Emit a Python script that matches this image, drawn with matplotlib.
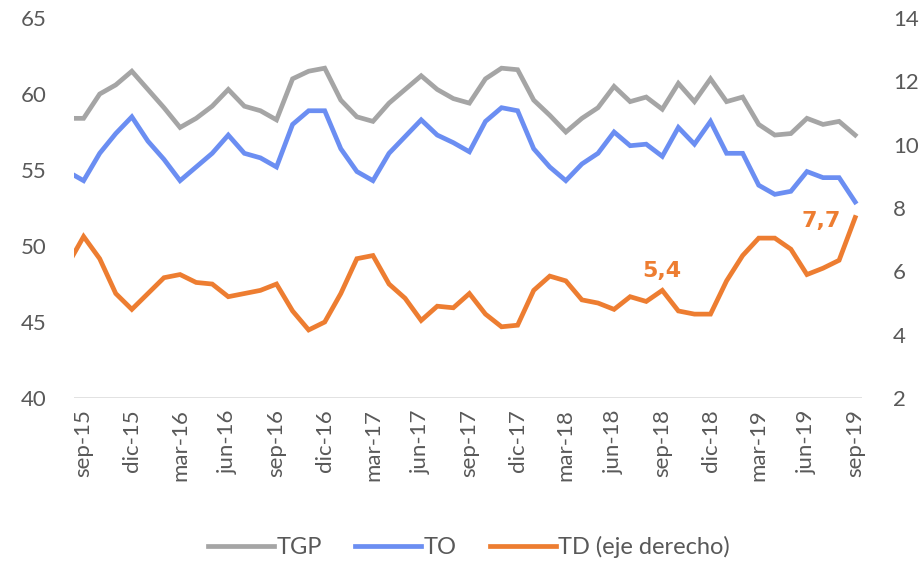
import matplotlib.pyplot as plt

# monthly series, aug-15 .. sep-19 (aug-15 is only partly visible at the left edge)
tgp = [58.4, 58.4, 60.0, 60.6, 61.5, 60.3, 59.1, 57.8, 58.4, 59.2, 60.3, 59.2, 58.9, 58.3,
       61.0, 61.5, 61.7, 59.6, 58.5, 58.2, 59.4, 60.3, 61.2, 60.3, 59.7, 59.4, 61.0, 61.7,
       61.6, 59.6, 58.6, 57.5, 58.4, 59.1, 60.5, 59.5, 59.8, 59.0, 60.7, 59.5, 61.0, 59.5,
       59.8, 58.0, 57.3, 57.4, 58.4, 58.0, 58.2, 57.3]
to = [54.9, 54.3, 56.1, 57.4, 58.5, 56.9, 55.7, 54.3, 55.2, 56.1, 57.3, 56.1, 55.8, 55.2,
      58.0, 58.9, 58.9, 56.4, 54.9, 54.3, 56.1, 57.2, 58.3, 57.3, 56.8, 56.2, 58.2, 59.1,
      58.9, 56.4, 55.2, 54.3, 55.4, 56.1, 57.5, 56.6, 56.7, 55.9, 57.8, 56.7, 58.2, 56.1,
      56.1, 54.0, 53.4, 53.6, 54.9, 54.5, 54.5, 52.9]
td = [6.2, 7.1, 6.4, 5.3, 4.8, 5.3, 5.8, 5.9, 5.65, 5.6, 5.2, 5.3, 5.4, 5.6,
      4.75, 4.15, 4.4, 5.3, 6.4, 6.5, 5.6, 5.15, 4.45, 4.9, 4.85, 5.3, 4.65, 4.25,
      4.3, 5.4, 5.85, 5.7, 5.1, 5.0, 4.8, 5.2, 5.05, 5.4, 4.75, 4.65, 4.65, 5.7,
      6.5, 7.05, 7.05, 6.7, 5.9, 6.1, 6.35, 7.7]
tick_labels = ['sep-15', 'dic-15', 'mar-16', 'jun-16', 'sep-16', 'dic-16', 'mar-17',
               'jun-17', 'sep-17', 'dic-17', 'mar-18', 'jun-18', 'sep-18', 'dic-18',
               'mar-19', 'jun-19', 'sep-19']
notes = {'5,4': 37, '7,7': 49}

plt.rcParams['font.family'] = ['Lato', 'DejaVu Sans']

x = list(range(-1, len(tgp) - 1))
txt = '#595959'
c_gray = '#A5A5A5'
c_blue = '#6B8EF2'
c_orange = '#ED7D31'

fig = plt.figure(figsize=(9.2, 5.63), dpi=100)
ax = fig.add_axes([0.0804, 0.293, 0.857, 0.675])
ax2 = ax.twinx()

l1, = ax.plot(x, tgp, color=c_gray, lw=3.4, solid_joinstyle='miter', label='TGP')
l2, = ax.plot(x, to, color=c_blue, lw=3.4, solid_joinstyle='miter', label='TO')
l3, = ax2.plot(x, td, color=c_orange, lw=3.4, solid_joinstyle='miter', label='TD (eje derecho)')

ax.set_xlim(-0.6, 48.45)
ax.set_ylim(40, 65)
ax2.set_ylim(2, 14)
ax.set_yticks(range(40, 66, 5))
ax2.set_yticks(range(2, 15, 2))
ax.set_xticks(range(0, 49, 3))
ax.set_xticklabels(tick_labels, rotation=90)

for a in (ax, ax2):
    for s in ('top', 'left', 'right', 'bottom'):
        a.spines[s].set_visible(False)
    a.tick_params(length=0, labelsize=16, colors=txt)
ax.tick_params(axis='y', pad=20)
ax2.tick_params(axis='y', pad=22)
ax.tick_params(axis='x', pad=8, labelsize=16)
ax.axhline(40, color='#D9D9D9', lw=1.8, zorder=0)

# data labels, placed by hand like in the original
for label, idx in notes.items():
    val = td[idx]
    dx = 0 if label == '5,4' else -2.1
    dy = 0.62 if label == '5,4' else -0.1
    ax2.text(x[idx] + dx, val + dy, label, color=c_orange, fontsize=16,
             fontweight='bold', family='DejaVu Sans', ha='center', va='center')

fig.legend(handles=[l1, l2, l3], loc='center', bbox_to_anchor=(0.51, 0.028),
           ncol=3, frameon=False, fontsize=17, handlelength=2.8,
           handletextpad=0.1, columnspacing=1.4, labelcolor=txt)

fig.savefig('out.png', dpi=100)
